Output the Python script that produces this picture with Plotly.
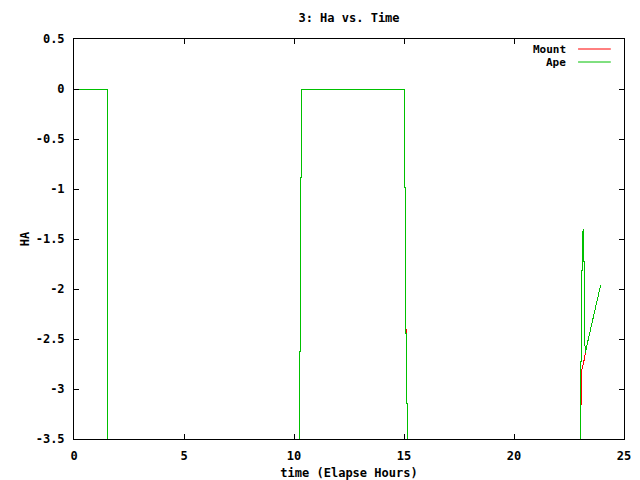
import plotly.graph_objects as go

# Data (values below -3.5 are clipped by the axis)
time_ape = [0, 1.51, 1.51, 1.545, 1.545, 10.23, 10.23, 10.29, 10.29, 10.33, 10.33,
            15.01, 15.01, 15.08, 15.08, 15.12, 15.12, 15.17, 15.17,
            23.02, 23.02, 23.06, 23.06, 23.10, 23.10, 23.145, 23.15, 23.19, 23.19,
            23.24, 23.4, 23.6, 23.8, 23.94]
ha_ape = [0, 0, -1.74, -1.74, -4.0, -4.0, -2.62, -2.62, -0.88, -0.88, 0,
          0, -0.98, -0.98, -2.44, -2.44, -3.14, -3.14, -4.0,
          -4.0, -2.72, -2.72, -1.81, -1.81, -1.54, -1.40, -1.72, -1.72, -2.36,
          -2.64, -2.48, -2.28, -2.09, -1.96]

time_mount = [0, 1.51, 1.51, 1.545, 1.545, 10.23, 10.23, 10.29, 10.29, 10.33, 10.33,
              15.01, 15.01, 15.08, 15.08, 15.12, 15.12, 15.17, 15.17,
              23.02, 23.07, 23.07, 23.08, 23.21, 23.24, 23.4, 23.6, 23.8, 23.94]
ha_mount = [0, 0, -1.74, -1.74, -4.0, -4.0, -2.62, -2.62, -0.88, -0.88, 0,
            0, -0.98, -0.98, -2.40, -2.40, -3.14, -3.14, -4.0,
            -4.0, None, -3.16, -2.81, -2.69, -2.64, -2.48, -2.28, -2.09, -1.96]

x_ticks = [0, 5, 10, 15, 20, 25]
y_ticks = [0.5, 0, -0.5, -1, -1.5, -2, -2.5, -3, -3.5]
y_tick_text = ["0.5", "0", "-0.5", "-1", "-1.5", "-2", "-2.5", "-3", "-3.5"]

series_names = ["Mount", "Ape"]
series_colors = ["#ff0000", "#00c000"]

FONT = dict(family="DejaVu Sans Mono", size=12, color="black", weight="bold")
KEYFONT = dict(family="DejaVu Sans Mono", size=11, color="black", weight="bold")

fig = go.Figure()
fig.add_trace(go.Scatter(x=time_mount, y=ha_mount, mode="lines", name=series_names[0],
                         line=dict(color=series_colors[0], width=1), showlegend=False,
                         connectgaps=False))
fig.add_trace(go.Scatter(x=time_ape, y=ha_ape, mode="lines", name=series_names[1],
                         line=dict(color=series_colors[1], width=1), showlegend=False))

axis_common = dict(showline=True, linecolor="black", linewidth=1, mirror="ticks",
                   ticks="inside", ticklen=5, tickcolor="black", tickwidth=1,
                   showgrid=False, zeroline=False, tickfont=FONT, ticklabelstandoff=6,
                   automargin=False)

fig.update_xaxes(range=[0, 25], tickvals=x_ticks, ticktext=[str(v) for v in x_ticks],
                 title=dict(text="time (Elapse Hours)", font=FONT, standoff=8),
                 **axis_common)
fig.update_yaxes(range=[-3.5, 0.5], tickvals=y_ticks, ticktext=y_tick_text,
                 title=dict(text="HA", font=FONT, standoff=3),
                 **axis_common)

# gnuplot-style key: label right-aligned, sample line to its right
for i, (name, color) in enumerate(zip(series_names, series_colors)):
    yp = 0.975 - i * 0.0325
    fig.add_annotation(x=0.898, y=yp, xref="paper", yref="paper", text=name,
                       showarrow=False, xanchor="right", yanchor="middle", font=KEYFONT)
    fig.add_shape(type="line", xref="paper", yref="paper", x0=0.9165, x1=0.976,
                  y0=yp, y1=yp, line=dict(color=color, width=1))

fig.update_layout(
    width=640, height=480,
    margin=dict(l=74, r=16, t=39, b=41, autoexpand=False),
    paper_bgcolor="white", plot_bgcolor="white",
    title=dict(text="3: Ha vs. Time", font=FONT, x=(74 + 275) / 640, xanchor="center",
               y=1 - 18 / 480, yanchor="middle"),
    showlegend=False,
)

post = (
    "document.body.style.margin='0';document.body.style.padding='0';"
    "document.querySelectorAll('.scatterlayer path.js-line').forEach("
    "function(p){p.style.shapeRendering='crispEdges';});"
)
fig.write_html("out.html", config={"displayModeBar": False}, post_script=post)
